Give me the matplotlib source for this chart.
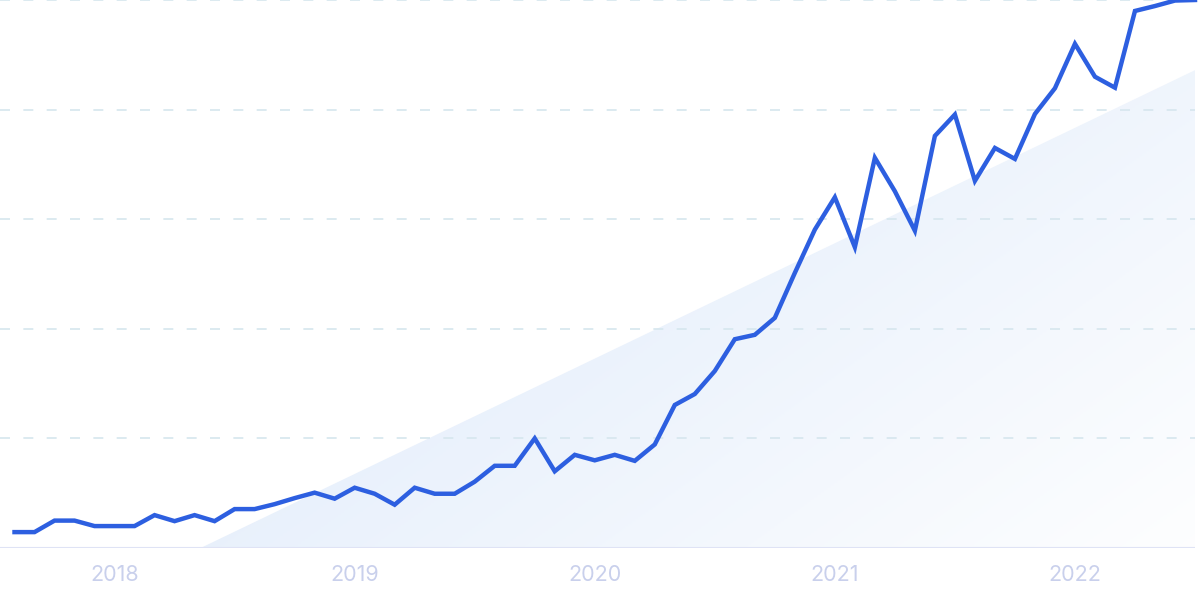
import numpy as np
import matplotlib.pyplot as plt
from matplotlib.colors import LinearSegmentedColormap
from matplotlib.patches import Polygon

# monthly interest, Aug 2017 .. Jul 2022 (peak = 100)
values = [2.9, 2.9, 5.0, 5.0, 4.0, 4.0, 4.0, 6.0, 4.9, 6.0,
          4.9, 7.1, 7.1, 8.0, 9.1, 10.1, 9.0, 11.0, 9.9, 7.9,
          11.0, 9.9, 9.9, 12.1, 15.0, 15.0, 20.0, 14.0, 17.0, 16.0,
          17.0, 15.9, 18.9, 26.1, 28.1, 32.3, 38.1, 38.9, 42.0, 50.2,
          58.1, 64.0, 54.9, 71.2, 65.1, 57.9, 75.2, 79.1, 67.0, 73.0,
          71.0, 79.2, 83.9, 92.0, 86.0, 84.0, 98.0, 98.9, 99.9, 100.0]
year_labels = ['2018', '2019', '2020', '2021', '2022']
year_ticks = [5, 17, 29, 41, 53]  # january of each year
trend_start = (9.3, 0.0)
trend_end = (59.0, 87.2)

months = np.arange(len(values))

fig = plt.figure(figsize=(12, 6), dpi=100)
ax = fig.add_axes([0, 52 / 600, 1195 / 1200, 548 / 600])
ax.set_xlim(-0.725, 59)
ax.set_ylim(0, 100)

# trend triangle with a soft gradient
cmap = LinearSegmentedColormap.from_list('fade', ['#dbe8fa', '#ffffff'])
xs = np.linspace(0, 1, 300)
ys = np.linspace(0, 1, 200)
X, Y = np.meshgrid(xs, ys)
grad = 0.6 * X + 0.4 * (1 - Y)
x0, y0 = trend_start
x1, y1 = trend_end
img = ax.imshow(grad, cmap=cmap, vmin=0, vmax=1.05, origin='lower',
                extent=[x0, x1, 0, y1], aspect='auto', zorder=1)
tri = Polygon([(x0, y0), (x1, y1), (x1, 0)], closed=True,
              facecolor='none', edgecolor='none')
ax.add_patch(tri)
img.set_clip_path(tri)

# grid
for g in [20, 40, 60, 80, 100]:
    ax.axhline(g, color='#d6e6ee', lw=1.2, dashes=(6, 8), zorder=2,
               clip_on=False)
ax.axhline(0, color='#dfe3f5', lw=1.5, zorder=2)

ax.plot(months, values, color='#2d5fe0', lw=3.2, solid_joinstyle='miter',
        zorder=4, clip_on=False)

for sp in ax.spines.values():
    sp.set_visible(False)
ax.set_yticks([])
ax.set_xticks(year_ticks)
ax.set_xticklabels(year_labels, fontsize=15.5, color='#c9d0ec', family='Inter')
ax.tick_params(axis='x', length=0, pad=12)

fig.savefig('out.png', dpi=100, facecolor='white')
